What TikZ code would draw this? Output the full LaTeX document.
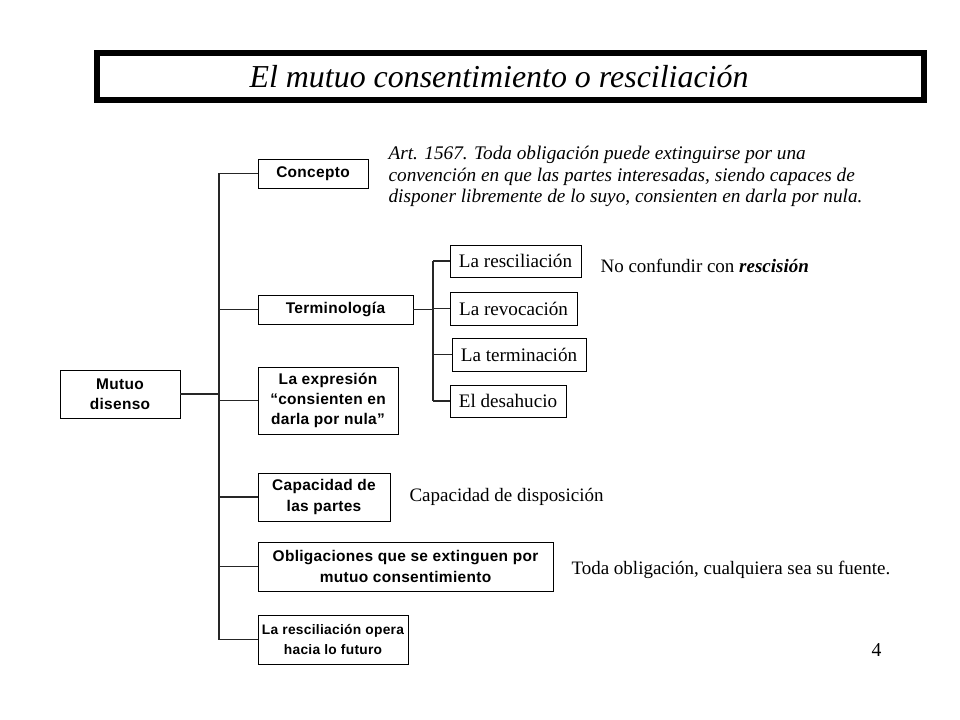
\documentclass[tikz,border=0pt]{standalone}
\usepackage{fontspec}
\setmainfont{Liberation Serif}
\setsansfont{Liberation Sans}[LetterSpace=2]
\usetikzlibrary{positioning,calc}

\begin{document}
\begin{tikzpicture}[
  x=0.025cm, y=-0.025cm,
  line width=0.8pt,
  size/.style 2 args={minimum width=#1*0.025cm, minimum height=#2*0.025cm},
  topic/.style={draw, line width=0.7pt, inner sep=0pt, align=center, font=\sffamily\bfseries\fontsize{11}{14.5}\selectfont},
  term/.style={draw, line width=0.7pt, inner sep=0pt, align=center, font=\fontsize{13.6}{17}\selectfont},
  note/.style={anchor=west, inner sep=0pt, font=\fontsize{13.5}{16}\selectfont},
  link/.style={draw=black!85, line width=0.8pt}
]
\useasboundingbox (0,0) rectangle (960,720);

% title
\node[draw, line width=4.25pt, size={827}{47}, inner sep=0pt] (title) at (510.5,76.5) {};
\node[inner sep=0pt, font=\itshape\fontsize{22.7}{27}\selectfont] (titletext) at (499,77) {El mutuo consentimiento o resciliación};

% main tree
\node[topic, size={120}{48}] (mutuo) at (120,394) {Mutuo\\disenso};
\coordinate (trunk) at (219,394);

\node[topic, size={110}{29}] (concepto) at (313,173.5) {Concepto};
\node[topic, size={155}{29}] (termino) at (335.5,309.5) {Terminología};
\node[topic, size={140}{67}] (expresion) at (328,400.5) {La expresión\\“consienten en\\darla por nula”};
\node[topic, size={132}{48}] (capacidad) at (324,497) {Capacidad de\\las partes};
\node[topic, size={295}{49}] (obligaciones) at (405.5,566.5) {Obligaciones que se extinguen por\\mutuo consentimiento};
\node[topic, size={150}{49}, font=\sffamily\bfseries\fontsize{9.8}{14.5}\selectfont] (futuro) at (333,639.5) {La resciliación opera\\hacia lo futuro};

\draw[link] (mutuo.east) -- (trunk);
\draw[link] (concepto.west -| trunk) -- (futuro.west -| trunk);
\foreach \n in {concepto,termino,expresion,capacidad,obligaciones,futuro}
  \draw[link] (\n.west) -- (\n.west -| trunk);

% terminology branch
\coordinate (subtrunk) at (433,309.5);
\node[term, size={131}{32}] (resc) at (515.5,261) {La resciliación};
\node[term, size={127}{33}] (revoc) at (513.5,308.5) {La revocación};
\node[term, size={134}{33}] (termin) at (519,354.5) {La terminación};
\node[term, size={116}{32}] (desah) at (508,401) {El desahucio};

\draw[link] (termino.east) -- (subtrunk);
\draw[link] (resc.west -| subtrunk) -- (desah.west -| subtrunk);
\foreach \n in {resc,revoc,termin,desah}
  \draw[link] (\n.west) -- (\n.west -| subtrunk);

% notes
\node[anchor=north west, inner sep=0pt, align=left, font=\itshape\fontsize{13.7}{15.3}\selectfont] (art) at (388,146)
  {Art. 1567. Toda obligación puede extinguirse por una\\convención en que las partes interesadas, siendo capaces de\\disponer libremente de lo suyo, consienten en darla por nula.};
\node[note] (rescnote) at (600,266) {No confundir con \textbf{\textit{rescisión}}};
\node[note] (capnote) at (409,497) {Capacidad de disposición};
\node[note] (oblnote) at (571,570) {Toda obligación, cualquiera sea su fuente.};
\node[note, font=\fontsize{14}{16}\selectfont] (page) at (871,650) {4};

\end{tikzpicture}
\end{document}
